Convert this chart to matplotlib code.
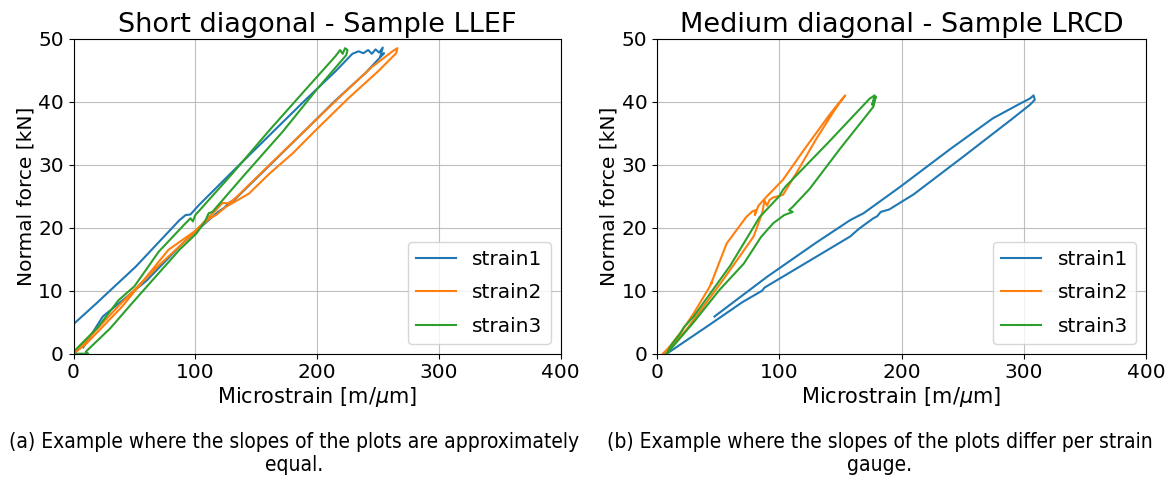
import matplotlib
matplotlib.use("Agg")
import matplotlib.pyplot as plt

# ─── Data ───────────────────────────────────────────────────

# (a) Short diagonal - Sample LLEF
a_s1_x = [0, 20, 21, 51, 87, 92, 96, 103, 130, 160, 190, 215, 229, 234, 238, 242,
          245, 248, 251, 254, 252, 255, 240, 214, 190, 160, 132, 128, 124, 118, 90,
          60, 24, 8]
a_s1_y = [4.7, 8.2, 8.4, 13.8, 21.2, 22.0, 22.1, 23.6, 28.8, 34.5, 40.2, 44.8, 47.6,
          48.0, 47.7, 48.2, 47.6, 48.3, 47.8, 48.6, 47.2, 47.7, 44.6, 40.0, 35.4, 29.7,
          24.4, 24.0, 23.2, 22.4, 17.6, 11.6, 5.9, 1.0]

a_s2_x = [0, 10, 40, 70, 98, 110, 117, 122, 128, 134, 160, 199, 220, 245, 262, 266,
          265, 250, 226, 199, 180, 161, 144, 125, 117, 112, 100, 78, 40, 10, 0]
a_s2_y = [0, 2.0, 8.2, 14.0, 19.0, 21.5, 22.8, 23.9, 23.9, 24.9, 29.8, 37.1, 41.0,
          45.5, 48.0, 48.5, 47.7, 44.8, 40.6, 35.5, 31.8, 28.6, 25.4, 23.3, 22.0, 21.5,
          19.5, 16.5, 7.5, 1.5, 0]

a_s3_x = [0, 20, 37, 50, 70, 90, 96, 98, 100, 130, 161, 190, 215, 219, 221, 223, 225,
          224, 200, 172, 140, 114, 111, 108, 101, 87, 48, 30, 10, 12, 0]
a_s3_y = [0.3, 4.2, 8.5, 10.7, 16.2, 20.3, 21.5, 21.0, 22.0, 28.5, 35.5, 41.8, 47.2,
          48.2, 47.6, 48.5, 48.2, 47.4, 42.0, 35.3, 28.3, 22.5, 22.3, 21.0, 19.1, 16.5,
          8.0, 4.0, 0.3, 0, 0]

# (b) Medium diagonal - Sample LRCD
b_s1_x = [47, 90, 130, 158, 166, 169, 199, 240, 275, 278, 297, 305, 308, 309, 305,
          290, 250, 210, 190, 183, 180, 177, 165, 158, 120, 88, 86, 70, 40, 8]
b_s1_y = [5.9, 12.2, 17.6, 21.2, 22.0, 22.3, 26.5, 32.5, 37.4, 37.7, 39.7, 40.5, 41.0,
          40.3, 39.5, 37.2, 31.2, 25.3, 22.9, 22.5, 21.8, 21.5, 19.8, 18.6, 14.2, 10.5,
          10.0, 8.2, 4.2, 0]

b_s2_x = [5, 12, 21, 30, 43, 45, 44, 57, 73, 78, 81, 80, 83, 90, 103, 120, 141, 148,
          154, 150, 145, 130, 115, 103, 95, 92, 90, 88, 86, 79, 66, 54, 40, 24, 12, 5]
b_s2_y = [0, 1.5, 3.8, 6.4, 10.6, 11.4, 11.0, 17.5, 21.7, 22.6, 22.8, 22.0, 23.5, 25.0,
          27.6, 32.3, 37.9, 39.6, 41.0, 40.0, 38.6, 34.0, 29.0, 25.2, 24.8, 24.4, 23.5,
          24.3, 22.3, 18.6, 15.0, 11.7, 8.0, 3.8, 1.2, 0]

b_s3_x = [8, 12, 19, 22, 30, 60, 84, 100, 103, 105, 140, 174, 178, 176, 179, 177, 150,
          125, 111, 108, 111, 104, 95, 85, 71, 51, 30, 8]
b_s3_y = [0, 1.5, 3.2, 4.2, 5.9, 14.0, 21.7, 25.0, 26.0, 26.5, 33.5, 40.5, 41.0, 39.5,
          40.8, 39.2, 32.6, 26.2, 23.3, 22.8, 22.5, 22.0, 20.7, 18.5, 14.3, 10.1, 5.0, 0]

labels = ["strain1", "strain2", "strain3"]
titles = ["Short diagonal - Sample LLEF", "Medium diagonal - Sample LRCD"]
captions = ["(a) Example where the slopes of the plots are approximately\nequal.",
            "(b) Example where the slopes of the plots differ per strain\ngauge."]

panels = [
    [(a_s1_x, a_s1_y), (a_s2_x, a_s2_y), (a_s3_x, a_s3_y)],
    [(b_s1_x, b_s1_y), (b_s2_x, b_s2_y), (b_s3_x, b_s3_y)],
]

# ─── Plotting ────────────────────────────────────────────────

plt.rcParams["font.family"] = ["DejaVu Sans"]
fig = plt.figure(figsize=(11.73, 4.79), dpi=100)

ax_l = fig.add_axes([0.0627, 0.2616, 0.4152, 0.6576])
ax_r = fig.add_axes([0.5601, 0.2616, 0.4169, 0.6576])

for ax, series, title in zip([ax_l, ax_r], panels, titles):
    for (xs, ys), lab in zip(series, labels):
        ax.plot(xs, ys, linewidth=1.5, label=lab)
    ax.set_xlim(0, 400)
    ax.set_ylim(0, 50)
    ax.set_xticks([0, 100, 200, 300, 400])
    ax.set_yticks([0, 10, 20, 30, 40, 50])
    ax.tick_params(labelsize=14.5)
    ax.set_xlabel(r"Microstrain [m/$\mu$m]", fontsize=15, labelpad=2)
    ax.set_ylabel("Normal force [kN]", fontsize=14.5, labelpad=2)
    ax.set_title(title, fontsize=19.5, pad=5)
    ax.grid(True, color="#b0b0b0", linewidth=0.8, alpha=0.8)
    ax.legend(loc="lower right", fontsize=14.5, labelspacing=0.7)

fig.text(0.2506, 0.098, captions[0], ha="center", va="top", fontsize=15,
         fontstretch="condensed", multialignment="center", linespacing=1.2)
fig.text(0.750, 0.098, captions[1], ha="center", va="top", fontsize=15,
         fontstretch="condensed", multialignment="center", linespacing=1.2)

plt.savefig("out.png", dpi=100)
plt.close()
